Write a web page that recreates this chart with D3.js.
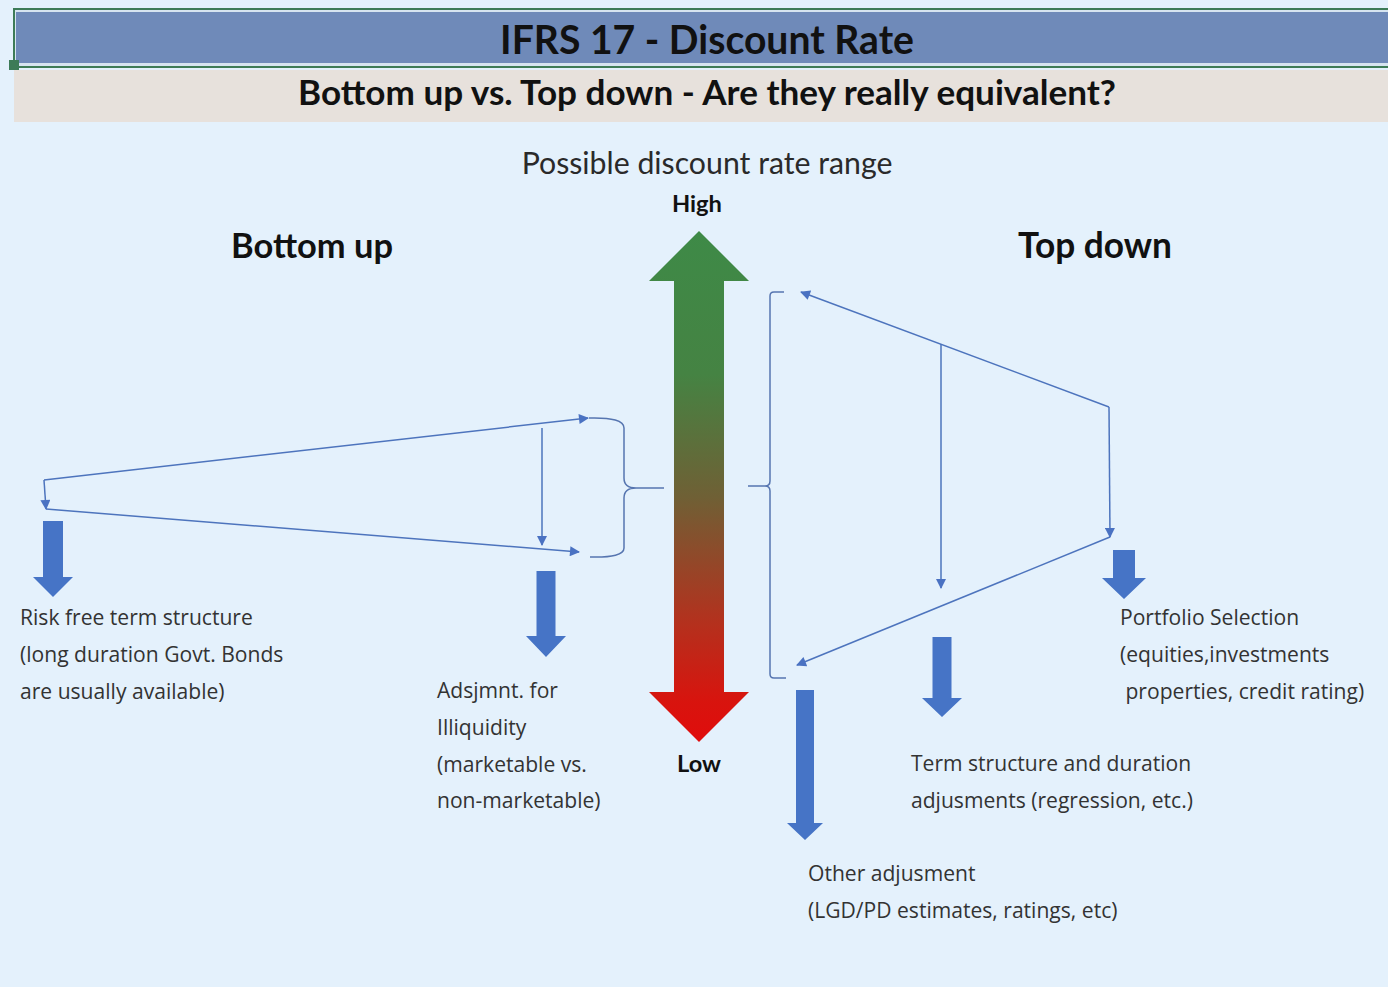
<!DOCTYPE html>
<html>
<head>
<meta charset="utf-8">
<script src="https://cdn.jsdelivr.net/npm/d3@7"></script>
<style>
  html, body { margin: 0; padding: 0; background: #e4f1fc; }
  svg { display: block; }
</style>
</head>
<body>
<script>
// titles
const title = 'IFRS 17 - Discount Rate';
const subtitle = 'Bottom up vs. Top down - Are they really equivalent?';
const rangeLabel = 'Possible discount rate range';
const sideTitles = ['Bottom up', 'Top down'];
const scaleEnds = ['High', 'Low'];

// text blocks beside the block arrows
const blockLabels = [
	['Risk free term structure', '(long duration Govt. Bonds', 'are usually available)'],
	['Adsjmnt. for', 'Illiquidity', '(marketable vs.', 'non-marketable)'],
	['Portfolio Selection', '(equities,investments', ' properties, credit rating)'],
	['Term structure and duration', 'adjusments (regression, etc.)'],
	['Other adjusment', '(LGD/PD estimates, ratings, etc)'],
];

// connector nodes, diagram units (0..1388 x 0..987)
const bottomUpNodes = { start: [44, 480], startLow: [46, 509], high: [588, 418], low: [579, 552], mid: [542, 428], midLow: [542, 545] };
const topDownNodes = { high: [801, 292], right: [1109, 407], rightLow: [1110, 537], low: [797, 665], mid: [941, 344], midLow: [941, 588] };

const width = 1388, height = 987;
const x = d3.scaleLinear([0, width], [0, width]);
const y = d3.scaleLinear([0, height], [0, height]);

const svg = d3.select('body').append('svg')
	.attr('width', width)
	.attr('height', height);

const defs = svg.append('defs');
defs.append('marker')
	.attr('id', 'tri')
	.attr('viewBox', '0 0 10 10')
	.attr('refX', 9).attr('refY', 5)
	.attr('markerWidth', 11).attr('markerHeight', 10)
	.attr('markerUnits', 'userSpaceOnUse')
	.attr('orient', 'auto')
	.append('path')
	.attr('d', 'M0,0 L10,5 L0,10 z')
	.style('fill', '#4a72c2');

const grad = defs.append('linearGradient')
	.attr('id', 'rangeGrad')
	.attr('x1', 0).attr('y1', 0).attr('x2', 0).attr('y2', 1);
[[0, '#3e8a47'], [0.28, '#458343'], [0.52, '#6f6035'], [0.76, '#b2321e'], [0.92, '#d8140e'], [1, '#e00c0c']]
	.forEach(([o, c]) => grad.append('stop').attr('offset', o).attr('stop-color', c));

svg.append('rect').attr('width', width).attr('height', height).style('fill', '#e4f1fc');

// header bands
svg.append('rect')
	.attr('x', 13).attr('y', 8).attr('width', width - 13).attr('height', 60)
	.style('fill', '#3d7b57');
svg.append('rect')
	.attr('x', 15).attr('y', 10).attr('width', width - 15).attr('height', 56)
	.style('fill', '#d6e4f0');
svg.append('rect')
	.attr('x', 16).attr('y', 12).attr('width', width - 16).attr('height', 51)
	.style('fill', '#6f8ab9');
svg.append('rect')
	.attr('x', 9).attr('y', 60).attr('width', 10).attr('height', 10)
	.style('fill', '#3d7b57');
svg.append('rect')
	.attr('x', 14).attr('y', 70).attr('width', width - 14).attr('height', 52)
	.style('fill', '#e7e1dc');

// scale a text's font so it spans w pixels
function fit (sel, w) {
	const len = sel.node().getComputedTextLength();
	const fs = parseFloat(sel.attr('font-size')) * w / len;
	sel.attr('font-size', fs);
	return fs;
}

const heading = (txt, cx, cy, size, w, weight, color) => {
	const t = svg.append('text')
		.attr('x', x(cx)).attr('y', y(cy))
		.attr('dy', '0.35em')
		.attr('text-anchor', 'middle')
		.attr('font-family', 'Lato, "Open Sans", sans-serif')
		.attr('font-weight', weight)
		.attr('font-size', size)
		.style('fill', color)
		.text(txt);
	fit(t, w);
	return t;
};

heading(title, 707, 40, 36, 414, 700, '#111');
heading(subtitle, 707, 93, 30, 818, 700, '#111');
heading(rangeLabel, 707, 163, 27, 371, 400, '#2a2a2a');
heading(sideTitles[0], 312, 246, 30, 162, 700, '#111');
heading(sideTitles[1], 1095, 246, 30, 154, 700, '#111');
heading(scaleEnds[0], 697, 204, 22, 50, 700, '#111');
heading(scaleEnds[1], 699, 764, 22, 44, 700, '#111');

// central range arrow
const ra = { cx: 699, top: 231, bottom: 742, shaft: 25, head: 50, headLen: 50 };
const rangePts = [
	[ra.cx, ra.top], [ra.cx + ra.head, ra.top + ra.headLen], [ra.cx + ra.shaft, ra.top + ra.headLen],
	[ra.cx + ra.shaft, ra.bottom - ra.headLen], [ra.cx + ra.head, ra.bottom - ra.headLen], [ra.cx, ra.bottom],
	[ra.cx - ra.head, ra.bottom - ra.headLen], [ra.cx - ra.shaft, ra.bottom - ra.headLen],
	[ra.cx - ra.shaft, ra.top + ra.headLen], [ra.cx - ra.head, ra.top + ra.headLen],
];
svg.append('path')
	.attr('d', 'M' + rangePts.map(d => [x(d[0]), y(d[1])]).join('L') + 'z')
	.style('fill', 'url(#rangeGrad)');

// thin connectors
const line = d3.line().x(d => x(d[0])).y(d => y(d[1]));
const connectors = [
	[bottomUpNodes.start, bottomUpNodes.high],
	[bottomUpNodes.start, bottomUpNodes.startLow],
	[bottomUpNodes.startLow, bottomUpNodes.low],
	[bottomUpNodes.mid, bottomUpNodes.midLow],
	[topDownNodes.right, topDownNodes.high],
	[topDownNodes.right, topDownNodes.rightLow],
	[topDownNodes.rightLow, topDownNodes.low],
	[topDownNodes.mid, topDownNodes.midLow],
];
svg.append('g').selectAll('path')
	.data(connectors)
	.join('path')
	.attr('d', d => line(d))
	.attr('marker-end', 'url(#tri)')
	.style('fill', 'none')
	.style('stroke', '#4d74bd')
	.style('stroke-width', 1.5);

// braces
const braceL = `M${x(589)},${y(418)} Q${x(624)},${y(417)} ${x(624)},${y(428)} L${x(624)},${y(478)} Q${x(624)},${y(488)} ${x(636)},${y(488)} L${x(664)},${y(488)} M${x(636)},${y(488)} Q${x(624)},${y(488)} ${x(624)},${y(498)} L${x(624)},${y(548)} Q${x(624)},${y(558)} ${x(590)},${y(557)}`;
const braceR = `M${x(784)},${y(292)} L${x(774)},${y(292)} Q${x(770)},${y(292)} ${x(770)},${y(296)} L${x(770)},${y(481)} Q${x(770)},${y(486)} ${x(765)},${y(486)} L${x(748)},${y(486)} M${x(765)},${y(486)} Q${x(770)},${y(486)} ${x(770)},${y(491)} L${x(770)},${y(674)} Q${x(770)},${y(678)} ${x(774)},${y(678)} L${x(786)},${y(678)}`;
svg.append('g').selectAll('path')
	.data([braceL, braceR])
	.join('path')
	.attr('d', d => d)
	.style('fill', 'none')
	.style('stroke', '#5675b0')
	.style('stroke-width', 1.5);

// block arrows
const blocks = [
	{ cx: 53, top: 521, tip: 597, shaft: 10, head: 20, headLen: 20 },
	{ cx: 546, top: 571, tip: 657, shaft: 9.5, head: 20, headLen: 21 },
	{ cx: 1124, top: 550, tip: 599, shaft: 11, head: 22, headLen: 21 },
	{ cx: 942, top: 637, tip: 717, shaft: 9.5, head: 20, headLen: 19 },
	{ cx: 805, top: 690, tip: 840, shaft: 9, head: 18, headLen: 17 },
];
svg.append('g').selectAll('path')
	.data(blocks)
	.join('path')
	.attr('d', b => {
		const p = [
			[b.cx - b.shaft, b.top], [b.cx + b.shaft, b.top], [b.cx + b.shaft, b.tip - b.headLen],
			[b.cx + b.head, b.tip - b.headLen], [b.cx, b.tip], [b.cx - b.head, b.tip - b.headLen],
			[b.cx - b.shaft, b.tip - b.headLen],
		];
		return 'M' + p.map(d => [x(d[0]), y(d[1])]).join('L') + 'z';
	})
	.style('fill', '#4674c6');

// labels
const labelPos = [[20, 618], [437, 691], [1120, 618], [911, 764], [808, 874]];
const lineGap = 36.7;
const probe = svg.append('text')
	.attr('font-family', '"Open Sans", sans-serif')
	.attr('font-size', 20)
	.text(blockLabels[0][0]);
const bodySize = fit(probe, 233);
probe.remove();

const labelG = svg.append('g').selectAll('text')
	.data(blockLabels)
	.join('text')
	.attr('font-family', '"Open Sans", sans-serif')
	.attr('font-size', bodySize)
	.style('fill', '#333')
	.style('white-space', 'pre');
labelG.selectAll('tspan')
	.data((d, i) => d.map((t, j) => ({ t, j, p: labelPos[i] })))
	.join('tspan')
	.attr('x', d => x(d.p[0]))
	.attr('y', d => y(d.p[1] + d.j * lineGap))
	.attr('dy', '0.35em')
	.text(d => d.t);
</script>
</body>
</html>
